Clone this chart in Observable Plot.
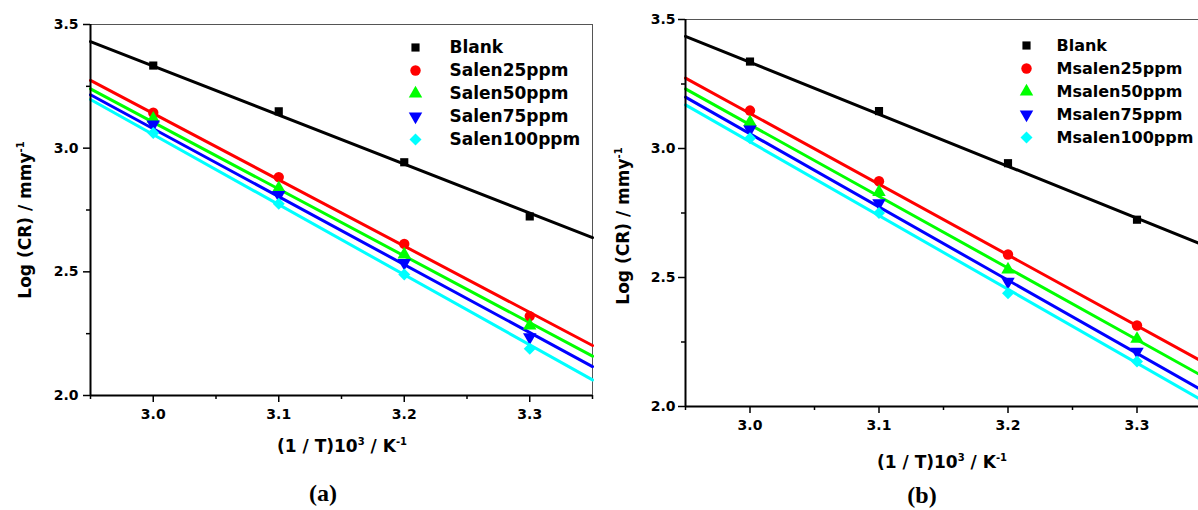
<!DOCTYPE html>
<html>
<head>
<meta charset="utf-8">
<script src="https://cdn.jsdelivr.net/npm/d3@7"></script>
<script src="https://cdn.jsdelivr.net/npm/@observablehq/plot@0.6"></script>
<style>
  html, body { margin: 0; padding: 0; background: #fff; }
  #root { position: relative; width: 1198px; height: 510px; overflow: hidden; background: #fff; }
  .abs { position: absolute; }
  .title { position: absolute; font-family: "DejaVu Sans", sans-serif; font-weight: bold; font-size: 17px; color: #000; white-space: nowrap; transform: translate(-50%, -50%); }
  .title sup { font-size: 10px; vertical-align: 0; position: relative; top: -7px; }
  .ytitle { transform: translate(-50%, -50%) rotate(-90deg); }
  .tag { position: absolute; font-family: "Liberation Serif", "Times New Roman", serif; font-weight: bold; font-size: 24px; line-height: 1; color: #000; transform: translate(-50%, -50%); white-space: nowrap; }
</style>
</head>
<body>
<div id="root"></div>
<script>
// ---------- data ----------
const xDomain = [2.95, 3.35];
const yDomain = [2.0, 3.5];
const xMajorTicks = [3.0, 3.1, 3.2, 3.3];
const xMinorTicks = [2.95, 3.05, 3.15, 3.25, 3.35];
const yMajorTicks = [2.0, 2.5, 3.0, 3.5];
const yMinorTicks = [2.25, 2.75, 3.25];

const invT = [3.0, 3.1, 3.2, 3.3];

const namesA = ["Blank", "Salen25ppm", "Salen50ppm", "Salen75ppm", "Salen100ppm"];
const namesB = ["Blank", "Msalen25ppm", "Msalen50ppm", "Msalen75ppm", "Msalen100ppm"];
const colors = ["#000000", "#ff0000", "#00ff00", "#0000ff", "#00ffff"];
const symbolKeys = ["square", "circle", "triangle", "triangleDown", "diamond2"];

// panel (a) measured log(CR)
const blankA    = [3.334, 3.149, 2.943, 2.724];
const salen25   = [3.143, 2.883, 2.613, 2.321];
const salen50   = [3.119, 2.838, 2.570, 2.283];
const salen75   = [3.096, 2.811, 2.536, 2.236];
const salen100  = [3.061, 2.775, 2.489, 2.189];
// panel (a) fitted lines, value at x = 2.95 and x = 3.35
const fitBlankA   = [3.431, 2.638];
const fitSalen25  = [3.274, 2.202];
const fitSalen50  = [3.240, 2.159];
const fitSalen75  = [3.216, 2.117];
const fitSalen100 = [3.197, 2.063];

// panel (b) measured log(CR)
const blankB    = [3.337, 3.145, 2.943, 2.724];
const msalen25  = [3.147, 2.873, 2.589, 2.314];
const msalen50  = [3.102, 2.831, 2.531, 2.262];
const msalen75  = [3.074, 2.788, 2.484, 2.213];
const msalen100 = [3.040, 2.750, 2.439, 2.174];
// panel (b) fitted lines, value at x = 2.95 and x = 3.35
const fitBlankB    = [3.435, 2.629];
const fitMsalen25  = [3.273, 2.176];
const fitMsalen50  = [3.231, 2.120];
const fitMsalen75  = [3.199, 2.064];
const fitMsalen100 = [3.169, 2.025];

// ---------- helpers ----------
const sqrt3 = Math.sqrt(3);
const triangleDown = {
  draw(context, size) {
    const y = -Math.sqrt(size / (sqrt3 * 3));
    context.moveTo(0, -y * 2);
    context.lineTo(-sqrt3 * y, y);
    context.lineTo(sqrt3 * y, y);
    context.closePath();
  }
};
const symbolOf = k => k === "triangleDown" ? triangleDown : k;
const radiusOf = {square: 4.6, circle: 5.2, triangle: 5, triangleDown: 5, diamond2: 5.4};

const baseStyle = {
  fontFamily: "DejaVu Sans, sans-serif",
  fontSize: "14px",
  fontWeight: "bold",
  color: "#000",
  background: "transparent",
  overflow: "visible",
  maxWidth: "none"
};

function panel({width, height, margins, series, fits, yTickPad}) {
  const marks = [];
  // frame: top & right thin, left & bottom thick
  marks.push(Plot.ruleY([yDomain[1]], {stroke: "#555", strokeWidth: 1}));
  marks.push(Plot.ruleX([xDomain[1]], {stroke: "#555", strokeWidth: 1}));
  // fitted lines
  series.forEach((_, i) => {
    const rows = xDomain.map((x, j) => ({x, y: fits[i][j]}));
    marks.push(Plot.line(rows, {x: "x", y: "y", stroke: colors[i], strokeWidth: 3}));
  });
  // points
  series.forEach((vals, i) => {
    const rows = invT.map((x, j) => ({x, y: vals[j]}));
    marks.push(Plot.dot(rows, {x: "x", y: "y", symbol: symbolOf(symbolKeys[i]), fill: colors[i], stroke: "none", r: radiusOf[symbolKeys[i]]}));
  });
  // axes
  marks.push(Plot.axisX(xMajorTicks, {tickSize: 7, tickPadding: 7, tickFormat: d3.format(".1f"), strokeWidth: 1.5, label: null}));
  marks.push(Plot.axisX(xMinorTicks, {tickSize: 4, tickFormat: () => "", strokeWidth: 1.5, label: null}));
  marks.push(Plot.axisY(yMajorTicks, {tickSize: 7, tickPadding: yTickPad, tickFormat: d3.format(".1f"), strokeWidth: 1.5, label: null}));
  marks.push(Plot.axisY(yMinorTicks, {tickSize: 4, tickFormat: () => "", strokeWidth: 1.5, label: null}));
  marks.push(Plot.ruleY([yDomain[0]], {stroke: "#000", strokeWidth: 2}));
  marks.push(Plot.ruleX([xDomain[0]], {stroke: "#000", strokeWidth: 2}));

  return Plot.plot({
    width, height,
    marginLeft: margins[0], marginRight: margins[1], marginTop: margins[2], marginBottom: margins[3],
    x: {domain: xDomain},
    y: {domain: yDomain},
    style: baseStyle,
    marks
  });
}

function legend({names, fontSize, gap, height}) {
  const marks = [];
  names.forEach((n, i) => {
    marks.push(Plot.dot([n], {y: d => d, frameAnchor: "left", symbol: symbolOf(symbolKeys[i]), fill: colors[i], stroke: "none", r: radiusOf[symbolKeys[i]]}));
  });
  marks.push(Plot.text(names, {y: d => d, frameAnchor: "left", dx: gap, textAnchor: "start", fontSize, fontWeight: "bold", fill: "#000"}));
  return Plot.plot({
    width: 200, height,
    marginLeft: 10, marginRight: 10, marginTop: 10, marginBottom: 10,
    y: {type: "point", domain: names, padding: 0, axis: null},
    style: baseStyle,
    marks
  });
}

const root = document.getElementById("root");

function place(node, left, top) {
  const d = document.createElement("div");
  d.className = "abs";
  d.style.left = left + "px";
  d.style.top = top + "px";
  d.appendChild(node);
  root.appendChild(d);
}
function addHTML(cls, html, x, y) {
  const d = document.createElement("div");
  d.className = cls;
  d.innerHTML = html;
  d.style.left = x + "px";
  d.style.top = y + "px";
  root.appendChild(d);
}

// panel (a)
place(panel({
  width: 600, height: 510, margins: [90, 8, 24, 115],
  series: [blankA, salen25, salen50, salen75, salen100],
  fits: [fitBlankA, fitSalen25, fitSalen50, fitSalen75, fitSalen100],
  yTickPad: 5
}), 0, 0);
place(legend({names: namesA, fontSize: 17, gap: 34, height: 115}), 405, 35);

// panel (b)
place(panel({
  width: 606, height: 510, margins: [87, 3, 19, 104],
  series: [blankB, msalen25, msalen50, msalen75, msalen100],
  fits: [fitBlankB, fitMsalen25, fitMsalen50, fitMsalen75, fitMsalen100],
  yTickPad: 3
}), 598, 0);
place(legend({names: namesB, fontSize: 16, gap: 30, height: 113}), 1016, 34);

// axis titles
const xTitle = "(1 / T)10<sup>3</sup> / K<sup>-1</sup>";
const yTitle = "Log (CR) / mmy<sup>-1</sup>";
addHTML("title", xTitle, 342, 446);
addHTML("title", xTitle, 942, 462);
addHTML("title ytitle", yTitle, 25, 220);
addHTML("title ytitle", yTitle, 623, 226);

// panel tags
addHTML("tag", "(a)", 323, 493);
addHTML("tag", "(b)", 922, 495);
</script>
</body>
</html>
